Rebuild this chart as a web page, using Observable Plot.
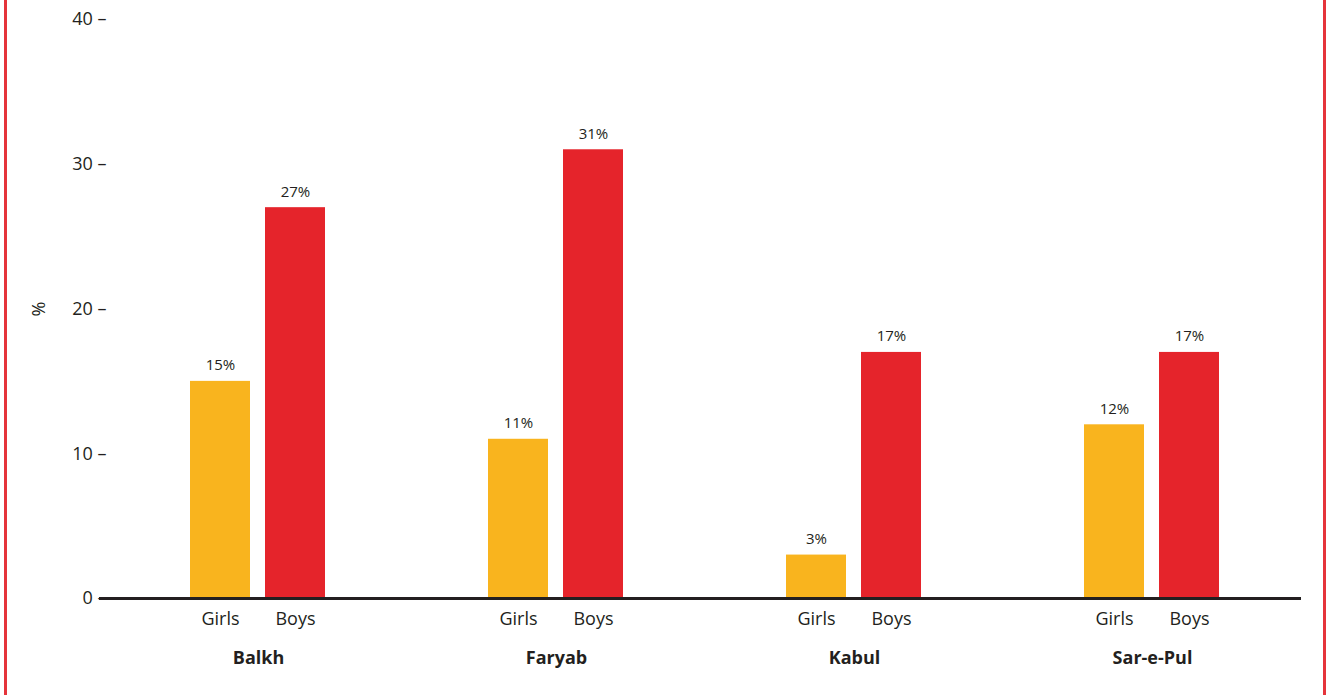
<!DOCTYPE html>
<html>
<head>
<meta charset="utf-8">
<script src="https://cdn.jsdelivr.net/npm/d3@7"></script>
<script src="https://cdn.jsdelivr.net/npm/@observablehq/plot@0.6"></script>
<style>
  html, body { margin: 0; padding: 0; background: #fff; }
  #wrap { position: relative; width: 1326px; height: 695px; overflow: hidden; font-family: "Open Sans", Lato, sans-serif; }
  .border { position: absolute; top: 0; bottom: 0; width: 3px; background: #E5343B; }
  #chart { position: absolute; left: 0; top: 0; }
</style>
</head>
<body>
<div id="wrap">
  <div class="border" style="left:4px"></div>
  <div class="border" style="left:1323px"></div>
  <div id="chart"></div>
</div>
<script>
const regions = ["Balkh", "Faryab", "Kabul", "Sar-e-Pul"];
const sexes = ["Girls", "Boys"];
const girls = [15, 11, 3, 12];
const boys = [27, 31, 17, 17];
const yTicks = [0, 10, 20, 30, 40];
const colors = ["#F9B41E", "#E5242B"];

const data = [];
regions.forEach((r, i) => {
  data.push({region: r, sex: "Girls", value: girls[i]});
  data.push({region: r, sex: "Boys", value: boys[i]});
});

const chart = Plot.plot({
  width: 1326,
  height: 695,
  marginLeft: 108,
  marginRight: 24,
  marginTop: 19,
  marginBottom: 97,
  style: {fontFamily: "'Open Sans', Lato, sans-serif", color: "#231F20", background: "transparent"},
  fx: {domain: regions, padding: 0},
  x: {domain: sexes, paddingInner: 0.197, paddingOuter: 1.062},
  y: {domain: [0, 40]},
  color: {domain: sexes, range: colors},
  marks: [
    Plot.barY(data, {fx: "region", x: "sex", y: "value", fill: "sex"}),
    Plot.text(data, {fx: "region", x: "sex", y: "value", text: d => d.value + "%", dy: -11, lineAnchor: "bottom", fontSize: 15, fill: "#231F20"}),
    Plot.ruleY([0], {stroke: "#231F20", strokeWidth: 3}),
    Plot.ruleY([{region: "Balkh"}], {fx: "region", y: () => 0, dx: -10, stroke: "#231F20", strokeWidth: 3}),
    Plot.axisY({ticks: yTicks, tickSize: 0, tickPadding: 3, tickFormat: d => d + " \u2013", fontSize: 18, label: "%", labelAnchor: "center", labelOffset: 77, labelArrow: "none"}),
    Plot.axisX({tickSize: 0, tickPadding: 14, fontSize: 18, label: null}),
    Plot.axisFx({anchor: "bottom", tickSize: 0, tickPadding: 53, fontSize: 18, fontWeight: "bold", label: null})
  ]
});
document.getElementById("chart").appendChild(chart);
</script>
</body>
</html>
